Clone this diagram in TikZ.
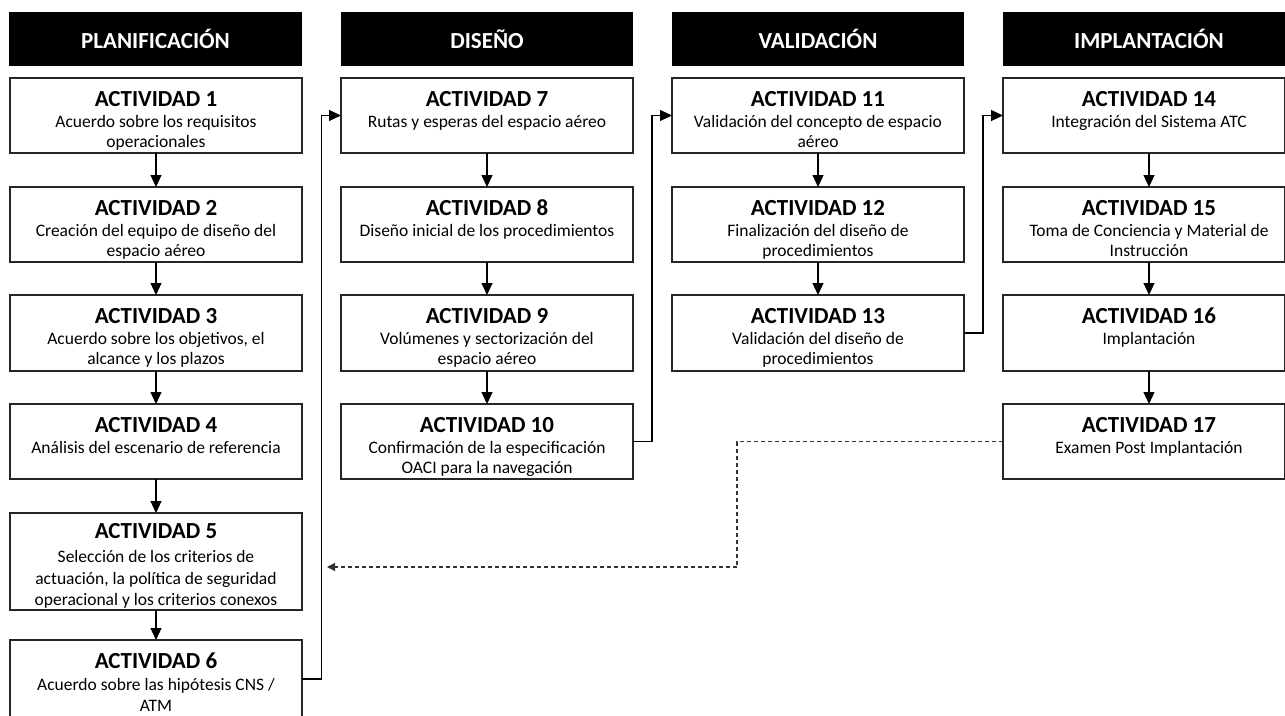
\documentclass[tikz,border=0pt]{standalone}
\usepackage{fontspec}
\setmainfont{Carlito}
\usetikzlibrary{arrows.meta}
\tikzset{
 box/.style={draw=black!85, line width=1.2pt, fill=white, inner sep=0pt, outer sep=0pt},
 hdr/.style={fill=black, text=white, font=\fontsize{23}{27}\selectfont\bfseries, minimum height=54pt, inner sep=0pt, outer sep=0pt},
 hdrtext/.style={text=white, font=\fontsize{23}{27}\selectfont\bfseries, inner sep=0pt},
 ttl/.style={anchor=base, font=\fontsize{23}{27}\selectfont\bfseries, inner sep=0pt},
 bdy/.style={anchor=base, font=\fontsize{17.5}{21}\selectfont, inner sep=0pt},
 arr/.style={line width=1.2pt, -{Triangle[length=12pt,width=11pt]}},
 dsh/.style={line width=1.2pt, draw=black!80, dash pattern=on 4pt off 3pt, -{Triangle[length=8pt,width=8pt]}}
}
% #1 name, #2 left, #3 top, #4 height, #5 centre x, #6 title, #7 line 1, #8 line 2, #9 width
\newcommand\act[9]{%
 \node[box, minimum width=#9pt, minimum height=#4pt, anchor=north west] (#1) at (#2,#3) {};
 \node[ttl] (#1t) at (#5,#3+28) {#6};
 \node[bdy] (#1a) at (#5,#3+49) {#7};
 \if\relax\detokenize{#8}\relax\else\node[bdy] (#1b) at (#5,#3+69.5) {#8};\fi}
\begin{document}
\begin{tikzpicture}[x=1pt,y=-1pt]
\useasboundingbox (0,0) rectangle (1285,715);
\clip (0,0) rectangle (1285,715);
% headers
\node[hdr, minimum width=293pt, anchor=north west] (h1) at (9,12) {PLANIFICACIÓN};
\node[hdr, minimum width=292pt, anchor=north west] (h2) at (341,12) {DISEÑO};
\node[hdr, minimum width=292pt, anchor=north west] (h3) at (672,12) {VALIDACIÓN};
\node[hdr, minimum width=282pt, anchor=north west] (h4) at (1003,12) {};
\node[hdrtext] (h4t) at (1149,39) {IMPLANTACIÓN};
% column 1
\act{a1}{10}{78}{75}{156}{ACTIVIDAD 1}{Acuerdo sobre los requisitos}{operacionales}{292}
\act{a2}{10}{187}{75}{156}{ACTIVIDAD 2}{Creación del equipo de diseño del}{espacio aéreo}{292}
\act{a3}{10}{295}{76}{156}{ACTIVIDAD 3}{Acuerdo sobre los objetivos, el}{alcance y los plazos}{292}
\act{a4}{10}{404}{75}{156}{ACTIVIDAD 4}{Análisis del escenario de referencia}{}{292}
\node[box, minimum width=292pt, minimum height=97pt, anchor=north west] (a5) at (10,513) {};
\node[ttl] (a5t) at (156,538) {ACTIVIDAD 5};
\node[bdy] (a5a) at (156,562) {Selección de los criterios de};
\node[bdy] (a5b) at (156,584) {actuación, la política de seguridad};
\node[bdy] (a5c) at (156,605.5) {operacional y los criterios conexos};
\node[box, minimum width=292pt, minimum height=78pt, anchor=north west] (a6) at (10,640) {};
\node[ttl] (a6t) at (156,668) {ACTIVIDAD 6};
\node[bdy] (a6a) at (156,690) {Acuerdo sobre las hipótesis CNS /};
\node[bdy] (a6b) at (156,711) {ATM};
% column 2
\act{a7}{341}{78}{75}{487}{ACTIVIDAD 7}{Rutas y esperas del espacio aéreo}{}{292}
\act{a8}{341}{187}{75}{487}{ACTIVIDAD 8}{Diseño inicial de los procedimientos}{}{292}
\act{a9}{341}{295}{76}{487}{ACTIVIDAD 9}{Volúmenes y sectorización del}{espacio aéreo}{292}
\act{a10}{341}{404}{75}{487}{ACTIVIDAD 10}{Confirmación de la especificación}{OACI para la navegación}{292}
% column 3
\act{a11}{672}{78}{75}{818}{ACTIVIDAD 11}{Validación del concepto de espacio}{aéreo}{292}
\act{a12}{672}{187}{75}{818}{ACTIVIDAD 12}{Finalización del diseño de}{procedimientos}{292}
\act{a13}{672}{295}{76}{818}{ACTIVIDAD 13}{Validación del diseño de}{procedimientos}{292}
% column 4
\act{a14}{1003}{78}{75}{1149}{ACTIVIDAD 14}{Integración del Sistema ATC}{}{281.5}
\act{a15}{1003}{187}{75}{1149}{ACTIVIDAD 15}{Toma de Conciencia y Material de}{Instrucción}{281.5}
\act{a16}{1003}{295}{76}{1149}{ACTIVIDAD 16}{Implantación}{}{281.5}
\act{a17}{1003}{404}{75}{1149}{ACTIVIDAD 17}{Examen Post Implantación}{}{281.5}
% vertical arrows
\draw[arr] (a1.south -| a1t) -- (a2.north -| a1t);
\draw[arr] (a2.south -| a1t) -- (a3.north -| a1t);
\draw[arr] (a3.south -| a1t) -- (a4.north -| a1t);
\draw[arr] (a4.south -| a1t) -- (a5.north -| a1t);
\draw[arr] (a5.south -| a1t) -- (a6.north -| a1t);
\draw[arr] (a7.south -| a7t) -- (a8.north -| a7t);
\draw[arr] (a8.south -| a7t) -- (a9.north -| a7t);
\draw[arr] (a9.south -| a7t) -- (a10.north -| a7t);
\draw[arr] (a11.south -| a11t) -- (a12.north -| a11t);
\draw[arr] (a12.south -| a11t) -- (a13.north -| a11t);
\draw[arr] (a14.south -| a14t) -- (a15.north -| a14t);
\draw[arr] (a15.south -| a14t) -- (a16.north -| a14t);
\draw[arr] (a16.south -| a14t) -- (a17.north -| a14t);
% elbow connectors
\coordinate (j1) at (321.5,0);
\coordinate (j2) at (652,0);
\coordinate (j3) at (983,0);
\coordinate (e6) at (302,679);
\draw[arr] (e6) -- (e6 -| j1) -- (a7.west -| j1) -- (a7.west);
\draw[arr] (a10.east) -- (a10.east -| j2) -- (a11.west -| j2) -- (a11.west);
\draw[arr] (a13.east) -- (a13.east -| j3) -- (a14.west -| j3) -- (a14.west);
% dashed feedback
\coordinate (dx) at (737,0);
\coordinate (dend) at (327,567);
\draw[dsh] (a17.west) -- (a17.west -| dx) -- (dend -| dx) -- (dend);
\end{tikzpicture}
\end{document}
